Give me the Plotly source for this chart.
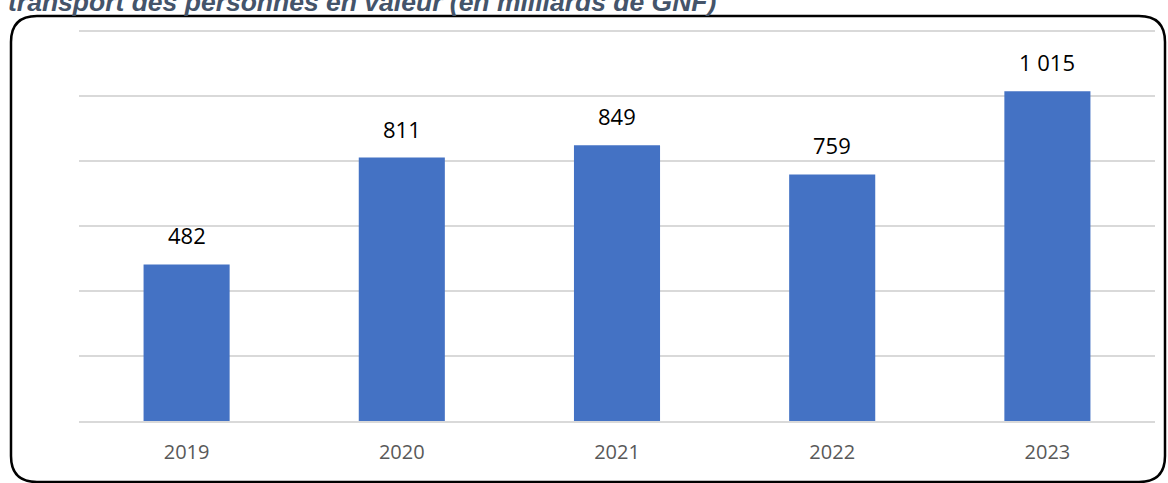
import plotly.graph_objects as go

annees = ['2019', '2020', '2021', '2022', '2023']
valeurs = [482, 811, 849, 759, 1015]
etiquettes = ['482', '811', '849', '759', '1 015']
titre = 'transport des personnes en valeur (en milliards de GNF)'

W, H = 1168, 483
L, R, T, B = 79, 13, 28, 62
pw, ph = W - L - R, H - T - B


def px(x):
    return (x - L) / pw


def py(y):
    return 1 - (y - T) / ph


fig = go.Figure(go.Bar(
    x=annees, y=valeurs, width=0.4,
    marker=dict(color='#4472C4', line=dict(width=0)),
    hoverinfo='skip',
))

# sur un axe catégoriel, '2019' serait lu comme un nombre : on passe par l'indice
for i, (v, e) in enumerate(zip(valeurs, etiquettes)):
    fig.add_annotation(x=i, y=v, text=e, showarrow=False, yanchor='bottom', yshift=12,
                       font=dict(family='Open Sans', size=22, color='#000000'))

fig.add_annotation(xref='paper', yref='paper', x=px(6), y=py(19), xanchor='left', yanchor='bottom',
                   text='<b><i>' + titre + '</i></b>', showarrow=False,
                   font=dict(family='Liberation Sans', size=26.5, color='#44546A'))

# cadre arrondi
x0, y0, x1, y1, r = px(11), py(16), px(1165), py(482), 26
rx, ry = r / pw, r / ph
path = (f'M {x0 + rx},{y0} L {x1 - rx},{y0} Q {x1},{y0} {x1},{y0 - ry} '
        f'L {x1},{y1 + ry} Q {x1},{y1} {x1 - rx},{y1} '
        f'L {x0 + rx},{y1} Q {x0},{y1} {x0},{y1 + ry} '
        f'L {x0},{y0 - ry} Q {x0},{y0} {x0 + rx},{y0} Z')
fig.add_shape(type='path', xref='paper', yref='paper', path=path,
              line=dict(color='#000000', width=2.5), layer='above')

fig.update_layout(
    width=W, height=H,
    margin=dict(l=L, r=R, t=T, b=B),
    plot_bgcolor='white', paper_bgcolor='white',
    showlegend=False,
    xaxis=dict(type='category', range=[-0.5, 4.5], showgrid=False, showline=True,
               linecolor='#D9D9D9', linewidth=1.5, ticks='', ticklabelstandoff=12,
               tickfont=dict(family='Open Sans', size=20, color='#595959')),
    yaxis=dict(range=[0, 1210], tickvals=[200, 400, 600, 800, 1000, 1200], showgrid=True,
               gridcolor='#D9D9D9', gridwidth=1.5,
               showticklabels=False, zeroline=False, ticks=''),
)

fig.write_html('out.html', config={'displayModeBar': False},
               post_script="document.body.style.margin='0';document.body.style.overflow='hidden';")
